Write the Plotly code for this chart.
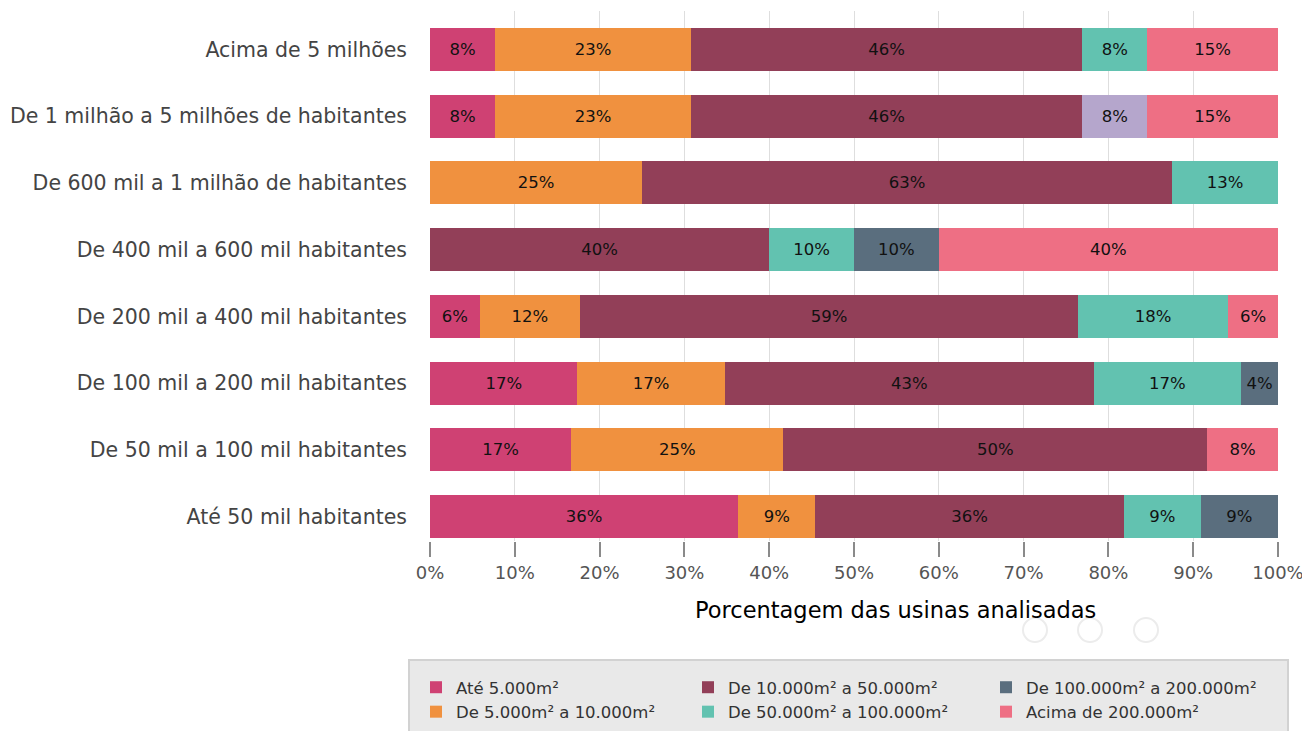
import plotly.graph_objects as go

categories = [
    "Acima de 5 milhões",
    "De 1 milhão a 5 milhões de habitantes",
    "De 600 mil a 1 milhão de habitantes",
    "De 400 mil a 600 mil habitantes",
    "De 200 mil a 400 mil habitantes",
    "De 100 mil a 200 mil habitantes",
    "De 50 mil a 100 mil habitantes",
    "Até 50 mil habitantes",
]

series_names = [
    "Até 5.000m²",
    "De 5.000m² a 10.000m²",
    "De 10.000m² a 50.000m²",
    "De 50.000m² a 100.000m²",
    "De 100.000m² a 200.000m²",
    "Acima de 200.000m²",
]

ate_5k = [7.69, 7.69, 0, 0, 5.88, 17.39, 16.67, 36.36]
de_5k_10k = [23.08, 23.08, 25.0, 0, 11.76, 17.39, 25.0, 9.09]
de_10k_50k = [46.15, 46.15, 62.5, 40.0, 58.82, 43.48, 50.0, 36.36]
de_50k_100k = [7.69, 7.69, 12.5, 10.0, 17.65, 17.39, 0, 9.09]
de_100k_200k = [0, 0, 0, 10.0, 0, 4.35, 0, 9.09]
acima_200k = [15.38, 15.38, 0, 40.0, 5.88, 0, 8.33, 0]

series_values = [ate_5k, de_5k_10k, de_10k_50k, de_50k_100k, de_100k_200k, acima_200k]
colors = ["#cf4173", "#f0913f", "#923f58", "#62c2b0", "#5a6e7e", "#ee6f84"]
highlight_color = "#b5a6cc"  # hovered point in the reference

x_ticks = [0, 10, 20, 30, 40, 50, 60, 70, 80, 90, 100]
x_tick_labels = [f"{t}%" for t in x_ticks]

FONT = "DejaVu Sans"

# The page body adds an 8px offset; work in page pixels and convert.
OFF = 8
W, H = 1310 - OFF, 731 - OFF
plot_left, plot_right, plot_top, plot_bottom = 430, 1278, 11, 541  # page px
ml = plot_left - OFF
mr = W - (plot_right - OFF)
mt = plot_top - OFF
mb = H - (plot_bottom - OFF)
pw, ph = W - ml - mr, H - mt - mb

def px_x(p):
    return (p - OFF - ml) / pw

def px_y(p):
    return (H - mb - (p - OFF)) / ph

fig = go.Figure()
legend_ids = ["legend", "legend", "legend2", "legend2", "legend3", "legend3"]
for i, (name, vals) in enumerate(zip(series_names, series_values)):
    labels = [f"{int(v + 0.5)}%" if v > 0 else "" for v in vals]
    cols = [colors[i]] * len(vals)
    if i == 3:
        cols[1] = highlight_color
    fig.add_trace(go.Bar(
        y=categories, x=vals, name=name, orientation="h",
        marker=dict(color=cols, line=dict(width=0)),
        text=labels, textposition="inside", insidetextanchor="middle",
        textangle=0, constraintext="none",
        textfont=dict(family=FONT, size=16.5, color="#111"),
        legend=legend_ids[i], hoverinfo="skip",
    ))

legend_common = dict(
    orientation="v", bgcolor="rgba(0,0,0,0)", borderwidth=0,
    font=dict(family=FONT, size=16.5, color="#333"),
    xanchor="left", yanchor="top", tracegroupgap=0, itemclick=False,
    traceorder="normal",
)

fig.update_layout(
    template="none",
    width=W, height=H,
    margin=dict(l=ml, r=mr, t=mt, b=mb, pad=0, autoexpand=False),
    barmode="stack", bargap=0.355,
    plot_bgcolor="white", paper_bgcolor="white",
    font=dict(family=FONT),
    xaxis=dict(
        range=[0, 100], tickvals=x_ticks, ticktext=x_tick_labels,
        showgrid=True, gridcolor="rgba(0,0,0,0.13)", gridwidth=1,
        zeroline=False, showline=False, automargin=False,
        ticks="outside", ticklen=15, tickwidth=2, tickcolor="#8a8a8a",
        tickfont=dict(family=FONT, size=18, color="#555"),
        layer="above traces", fixedrange=True,
    ),
    yaxis=dict(
        categoryorder="array", categoryarray=categories,
        range=[7.367, -0.577], automargin=False,
        showgrid=False, zeroline=False, showline=False,
        ticks="", ticklabelstandoff=22,
        tickfont=dict(family=FONT, size=20.5, color="#444"),
        fixedrange=True,
    ),
    legend=dict(x=px_x(416), y=px_y(670), **legend_common),
    legend2=dict(x=px_x(688), y=px_y(670), **legend_common),
    legend3=dict(x=px_x(986), y=px_y(670), **legend_common),
    showlegend=True,
)

fig.add_annotation(
    text="Porcentagem das usinas analisadas", xref="paper", yref="paper",
    x=px_x(895), y=px_y(610), showarrow=False, xanchor="center", yanchor="middle",
    font=dict(family=FONT, size=22.5, color="#000"),
)

fig.add_shape(
    type="rect", xref="paper", yref="paper", layer="below",
    x0=px_x(409), x1=px_x(1288), y0=px_y(660), y1=px_y(745),
    fillcolor="#e9e9e9", line=dict(color="#d2d2d2", width=2),
)

for cx in [1035, 1090, 1146]:
    fig.add_shape(
        type="circle", xref="paper", yref="paper", layer="below",
        x0=px_x(cx - 12), x1=px_x(cx + 12), y0=px_y(630 - 12), y1=px_y(630 + 12),
        line=dict(color="#ececec", width=2), fillcolor="rgba(0,0,0,0)",
    )

fig.write_html("out.html")
